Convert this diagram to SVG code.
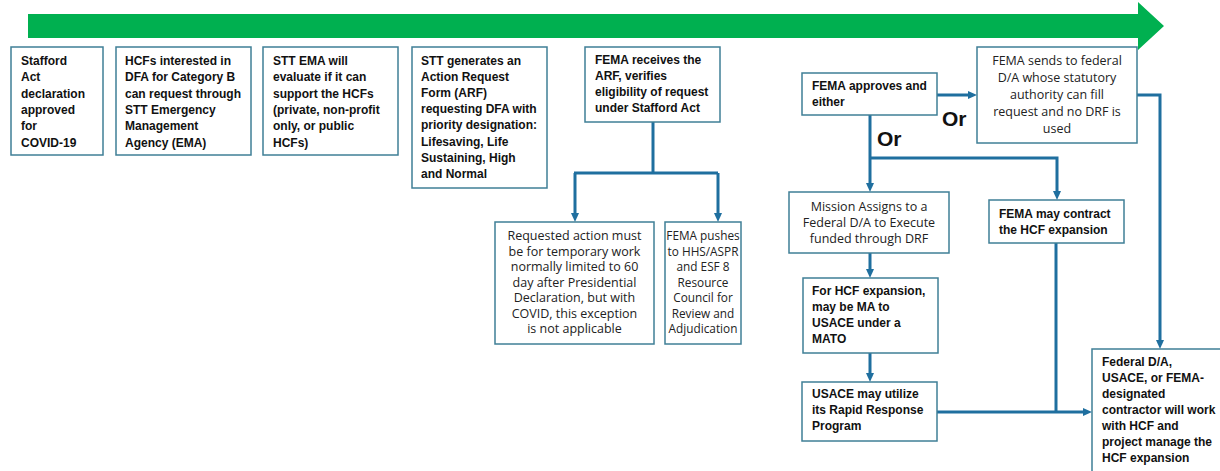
<svg xmlns="http://www.w3.org/2000/svg" width="1220" height="471" viewBox="0 0 1220 471">
<style>
.box{fill:#ffffff;stroke:#3f7f96;stroke-width:1.5}
.b{font-family:"Liberation Sans",Arial,sans-serif;font-weight:bold;font-size:12px;fill:#111}
.r{font-family:"Open Sans","Noto Sans",sans-serif;font-size:12.5px;fill:#222;text-anchor:middle}
.r12{font-size:11.8px}
.or{font-family:"Liberation Sans",Arial,sans-serif;font-weight:bold;font-size:21px;fill:#111}
.c{fill:none;stroke:#1f6f9f;stroke-width:3}
</style>
<defs>
<marker id="ah" markerUnits="userSpaceOnUse" markerWidth="9" markerHeight="8" viewBox="0 0 9 8" refX="4" refY="4" orient="auto">
<path d="M0,0 L9,4 L0,8 z" fill="#1f6f9f"/>
</marker>
</defs>
<rect width="1220" height="471" fill="#ffffff"/>
<g id="timeline">
<polygon points="28,14 1138,14 1138,2 1164,26 1138,50 1138,38 28,38" fill="#00b050"/>
</g>
<g id="connectors">
<path class="c" d="M653,122 V173"/>
<path class="c" d="M574,173 H718"/>
<path class="c" d="M575,173 V217" marker-end="url(#ah)"/>
<path class="c" d="M718,173 V217" marker-end="url(#ah)"/>
<path class="c" d="M937,95 H972" marker-end="url(#ah)"/>
<path class="c" d="M870,115 V187" marker-end="url(#ah)"/>
<path class="c" d="M870,158 H1057 V195" marker-end="url(#ah)"/>
<path class="c" d="M1137,95 H1160 V344" marker-end="url(#ah)"/>
<path class="c" d="M870,253 V273" marker-end="url(#ah)"/>
<path class="c" d="M870,353 V377" marker-end="url(#ah)"/>
<path class="c" d="M1056,243 V412"/>
<path class="c" d="M937,412 H1087" marker-end="url(#ah)"/>
</g>
<g id="n1">
<rect class="box" x="11" y="47" width="92" height="108"/>
<text class="b" x="21" y="65">Stafford</text>
<text class="b" x="21" y="81.3">Act</text>
<text class="b" x="21" y="97.6">declaration</text>
<text class="b" x="21" y="113.9">approved</text>
<text class="b" x="21" y="130.2">for</text>
<text class="b" x="21" y="146.5">COVID-19</text>
</g>
<g id="n2">
<rect class="box" x="116" y="47" width="135" height="108"/>
<text class="b" x="125" y="65">HCFs interested in</text>
<text class="b" x="125" y="81.3">DFA for Category B</text>
<text class="b" x="125" y="97.6">can request through</text>
<text class="b" x="125" y="113.9">STT Emergency</text>
<text class="b" x="125" y="130.2">Management</text>
<text class="b" x="125" y="146.5">Agency (EMA)</text>
</g>
<g id="n3">
<rect class="box" x="263" y="47" width="135" height="108"/>
<text class="b" x="273" y="65">STT EMA will</text>
<text class="b" x="273" y="81.3">evaluate if it can</text>
<text class="b" x="273" y="97.6">support the HCFs</text>
<text class="b" x="273" y="113.9">(private, non-profit</text>
<text class="b" x="273" y="130.2">only, or public</text>
<text class="b" x="273" y="146.5">HCFs)</text>
</g>
<g id="n4">
<rect class="box" x="412" y="47" width="135" height="141"/>
<text class="b" x="421" y="65">STT generates an</text>
<text class="b" x="421" y="81.1">Action Request</text>
<text class="b" x="421" y="97.2">Form (ARF)</text>
<text class="b" x="421" y="113.3">requesting DFA with</text>
<text class="b" x="421" y="129.4">priority designation:</text>
<text class="b" x="421" y="145.5">Lifesaving, Life</text>
<text class="b" x="421" y="161.6">Sustaining, High</text>
<text class="b" x="421" y="177.7">and Normal</text>
</g>
<g id="n5">
<rect class="box" x="585" y="47" width="135" height="75"/>
<text class="b" x="595" y="64">FEMA receives the</text>
<text class="b" x="595" y="80">ARF, verifies</text>
<text class="b" x="595" y="96">eligibility of request</text>
<text class="b" x="595" y="112">under Stafford Act</text>
</g>
<g id="n6">
<rect class="box" x="495" y="222" width="159" height="122"/>
<text class="r" x="574.5" y="240">Requested action must</text>
<text class="r" x="574.5" y="255.5">be for temporary work</text>
<text class="r" x="574.5" y="271">normally limited to 60</text>
<text class="r" x="574.5" y="286.5">day after Presidential</text>
<text class="r" x="574.5" y="302">Declaration, but with</text>
<text class="r" x="574.5" y="317.5">COVID, this exception</text>
<text class="r" x="574.5" y="333">is not applicable</text>
</g>
<g id="n7">
<rect class="box" x="665" y="222" width="76" height="122"/>
<text class="r r12" x="703" y="240">FEMA pushes</text>
<text class="r r12" x="703" y="255.5">to HHS/ASPR</text>
<text class="r r12" x="703" y="271">and ESF 8</text>
<text class="r r12" x="703" y="286.5">Resource</text>
<text class="r r12" x="703" y="302">Council for</text>
<text class="r r12" x="703" y="317.5">Review and</text>
<text class="r r12" x="703" y="333">Adjudication</text>
</g>
<g id="n8">
<rect class="box" x="802" y="73" width="135" height="42"/>
<text class="b" x="812" y="90">FEMA approves and</text>
<text class="b" x="812" y="106">either</text>
</g>
<g id="n9">
<rect class="box" x="977" y="47" width="160" height="96"/>
<text class="r" x="1057" y="65">FEMA sends to federal</text>
<text class="r" x="1057" y="82">D/A whose statutory</text>
<text class="r" x="1057" y="99">authority can fill</text>
<text class="r" x="1057" y="116">request and no DRF is</text>
<text class="r" x="1057" y="133">used</text>
</g>
<g id="n10">
<rect class="box" x="789" y="192" width="160" height="61"/>
<text class="r" x="869" y="211">Mission Assigns to a</text>
<text class="r" x="869" y="227">Federal D/A to Execute</text>
<text class="r" x="869" y="243">funded through DRF</text>
</g>
<g id="n11">
<rect class="box" x="989" y="200" width="135" height="43"/>
<text class="b" x="999" y="218">FEMA may contract</text>
<text class="b" x="999" y="234">the HCF expansion</text>
</g>
<g id="n12">
<rect class="box" x="803" y="278" width="135" height="75"/>
<text class="b" x="812" y="295">For HCF expansion,</text>
<text class="b" x="812" y="311">may be MA to</text>
<text class="b" x="812" y="327">USACE under a</text>
<text class="b" x="812" y="343">MATO</text>
</g>
<g id="n13">
<rect class="box" x="802" y="382" width="135" height="59"/>
<text class="b" x="812" y="398">USACE may utilize</text>
<text class="b" x="812" y="414">its Rapid Response</text>
<text class="b" x="812" y="430">Program</text>
</g>
<g id="n14">
<rect class="box" x="1092" y="349" width="140" height="130"/>
<text class="b" x="1102" y="366">Federal D/A,</text>
<text class="b" x="1102" y="382">USACE, or FEMA-</text>
<text class="b" x="1102" y="398">designated</text>
<text class="b" x="1102" y="414">contractor will work</text>
<text class="b" x="1102" y="430">with HCF and</text>
<text class="b" x="1102" y="446">project manage the</text>
<text class="b" x="1102" y="462">HCF expansion</text>
</g>
<g id="labels">
<text class="or" x="942" y="126">Or</text>
<text class="or" x="877" y="146">Or</text>
</g>
</svg>
